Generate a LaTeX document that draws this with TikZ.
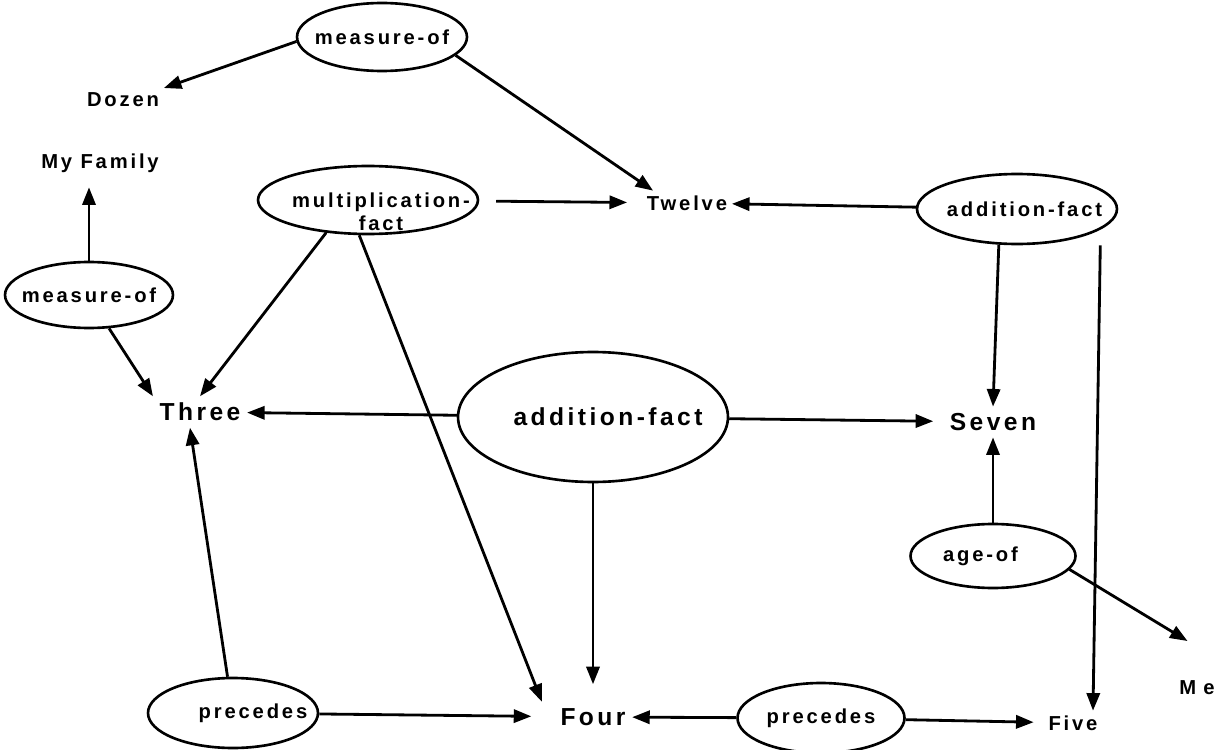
\documentclass[tikz,border=0pt]{standalone}
\usepackage{fontspec}
\setmainfont{Liberation Sans}[LetterSpace=14]
\usetikzlibrary{arrows.meta,shapes.geometric,positioning}

\tikzset{
  rel/.style 2 args={draw,ellipse,line width=1.5pt,minimum width=#1,minimum height=#2,inner sep=0pt,font=\fontsize{11.5}{13}\selectfont\bfseries},
  word/.style={inner sep=2pt,font=\fontsize{11.5}{13}\selectfont\bfseries},
  bigword/.style={inner sep=3pt,font=\fontsize{14}{16}\selectfont\bfseries}
}

\begin{document}
\begin{tikzpicture}[->,>={Triangle[length=10pt,width=7.5pt]},line width=1.6pt,x=0.02cm,y=-0.02cm]
  \useasboundingbox (0,0) rectangle (1228,750);
  % relation ovals
  \node[rel={3.4cm}{1.36cm}]  (mtop)  at (382,37)  {\makebox[0pt]{measure-of}};
  \node[rel={3.36cm}{1.32cm}] (mleft) at (89,295)  {\makebox[0pt]{measure-of}};
  \node[rel={4.4cm}{1.36cm},
        label={[word,align=center,shift={(0.26cm,-0.24cm)}]center:multiplication-\\fact}]
                              (mult)  at (368,200) {};
  \node[rel={4cm}{1.4cm}]     (adtr)  at (1017,209) {\makebox[0pt]{\hspace{0.3cm}addition-fact}};
  \node[rel={5.4cm}{2.6cm},font=\fontsize{14}{16}\selectfont\bfseries]
                              (adbig) at (593,417) {\makebox[0pt]{\hspace{0.6cm}addition-fact}};
  \node[rel={3.3cm}{1.28cm}]  (ageof) at (993,556) {\makebox[0pt]{\hspace{-0.5cm}age-of}};
  \node[rel={3.4cm}{1.4cm}]   (precl) at (233,713) {\makebox[0pt]{\hspace{0.8cm}precedes}};
  \node[rel={3.34cm}{1.4cm}]  (precr) at (821,718) {\makebox[0pt]{precedes}};
  % concepts
  \node[word]    (dozen)  at (123,100)  {Dozen};
  \node[word]    (myfam)  at (100,163)  {My Family};
  \node[word]    (twelve) at (687,203)  {Twelve};
  \node[bigword] (three)  at (200,412)  {Three};
  \node[bigword] (seven)  at (993,422)  {Seven};
  \node[word]    (me)     at (1197,688) {M\hspace{4pt}e};
  \node[bigword] (four)   at (593,717)  {Four};
  \node[word]    (five)   at (1073,723) {Five};

  \path
  (mtop.183) edge (dozen.north east)
  (mtop.346) edge (twelve.160)
  (mult)     edge[shorten <=0.34cm, shorten >=0.3cm] (twelve)
  (adtr)     edge (twelve)
  (adtr.243) edge (seven.north)
  ([xshift=-0.36cm]adtr.east |- adtr.south) edge ([xshift=0.4cm]five.north)
  (mleft.north) edge[shorten >=0.2cm] (myfam.south -| mleft.north)
  (mleft.301)   edge (three.north west)
  (mult.218)    edge (three.north)
  (mult.256)    edge ([xshift=-0.24cm]four.north west)
  (adbig) edge (three)
  (adbig) edge[shorten >=0.2cm] (seven)
  (adbig) edge[shorten >=0.35cm] (four)
  (ageof) edge (seven)
  (ageof.350) edge ([xshift=0.26cm,yshift=0.7cm]me.north west)
  (precl) edge ([xshift=-0.2cm]three.south)
  (precl) edge[shorten >=0.45cm] (four)
  (precr) edge (four)
  (precr) edge[shorten >=0.2cm] (five);
\end{tikzpicture}
\end{document}
